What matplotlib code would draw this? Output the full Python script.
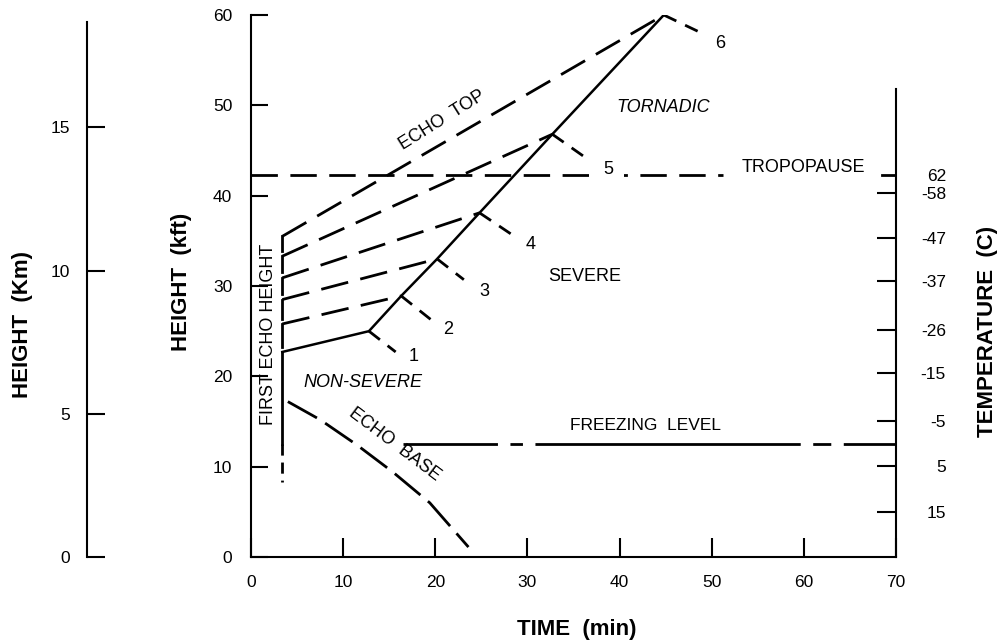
import numpy as np
import matplotlib

matplotlib.use("Agg")
import matplotlib.pyplot as plt

plt.rcParams['font.family'] = ['Liberation Sans', 'DejaVu Sans']
plt.rcParams['lines.scale_dashes'] = False  # Strichmuster in Punkten

# --- Daten (Zeit in min, Höhe in kft) ---
t_first = 3.4                                   # Zeitpunkt der ersten Echohöhe
first_echo_h = [35.5, 33.3, 30.9, 28.5, 25.8, 22.7]
first_echo_low = [12.5, 8.3]                    # unteres Ende der Linie

vertex_t = [44.8, 32.7, 24.8, 20.2, 16.3, 12.8]  # Knicke auf der Hauptlinie
vertex_h = [60.0, 46.8, 38.1, 33.0, 28.9, 25.0]
vertex_labels = ['6', '5', '4', '3', '2', '1']
ray_t = [48.9, 36.6, 28.3, 23.1, 19.5, 15.7]
ray_h = [58.0, 44.0, 35.7, 30.7, 26.3, 22.7]
num_t = [50.9, 38.8, 30.4, 25.3, 21.4, 17.6]
num_h = [56.9, 42.9, 34.6, 29.4, 25.2, 22.2]

echo_base_t = [4.0, 7.5, 11.5, 15.4, 19.4, 23.6]
echo_base_h = [17.2, 15.2, 12.4, 9.4, 6.0, 1.1]

tropopause_h = 42.3
freezing_h = 12.5
freezing_start = 16.5

temp_h = [40.3, 35.3, 30.5, 25.1, 20.4, 15.1, 10.1, 5.0]
temp_labels = ['-58', '-47', '-37', '-26', '-15', '-5', '5', '15']
tropo_temp = '62'

km_ticks = [0, 5, 10, 15]
kft_per_km = 3.17
kft_ticks = [0, 10, 20, 30, 40, 50, 60]
time_ticks = [0, 10, 20, 30, 40, 50, 60, 70]

fig = plt.figure(figsize=(9.98, 6.4), dpi=100)
ax = fig.add_axes([251 / 998, 83 / 640, 645 / 998, 542 / 640])
ax.set_xlim(0, 70)
ax.set_ylim(0, 60)

lw = 1.5
tsize = 12.5
ax.spines['top'].set_visible(False)
for s in ['left', 'bottom', 'right']:
    ax.spines[s].set_linewidth(lw)
ax.spines['right'].set_bounds(0, 51.8)

ax.set_xticks(time_ticks)
ax.set_yticks(kft_ticks)
ax.tick_params(axis='x', direction='in', length=14, width=lw, pad=13, labelsize=tsize)
ax.tick_params(axis='y', direction='in', length=12.5, width=lw, pad=13.5, labelsize=tsize)

# Hauptlinie (durchgezogen)
ax.plot([t_first] + vertex_t[::-1], [first_echo_h[-1]] + vertex_h[::-1], color='black', lw=1.8)

# gestrichelte Linien von der ersten Echohöhe zu den Knicken
for i in range(5):
    ax.plot([t_first, vertex_t[i]], [first_echo_h[i], vertex_h[i]], color='black', lw=2,
            dashes=(20, 9))
    ax.plot([t_first, t_first], [first_echo_h[i], first_echo_h[i + 1] + 0.6], color='black', lw=2)

# senkrechte Linie nach unten
ax.plot([t_first, t_first], [first_echo_h[-1], first_echo_low[0]], color='black', lw=2)
ax.plot([t_first, t_first], first_echo_low, color='black', lw=2, dashes=(8, 5))

# kurze Strahlen mit Nummern
for i in range(6):
    ax.plot([vertex_t[i], ray_t[i]], [vertex_h[i], ray_h[i]], color='black', lw=2, dashes=(10, 7))
    bb = None
    if vertex_labels[i] == '5':
        bb = dict(boxstyle='square,pad=0.6', facecolor='white', edgecolor='none')
    ax.text(num_t[i], num_h[i], vertex_labels[i], fontsize=13, ha='center', va='center',
            bbox=bb, zorder=5)

# Echobasis
ax.plot(echo_base_t, echo_base_h, color='black', lw=2, dashes=(24, 7))

# Tropopause
ax.plot([0, 51.2], [tropopause_h, tropopause_h], color='black', lw=2, dashes=(19, 9))
ax.plot([68.5, 70], [tropopause_h, tropopause_h], color='black', lw=2)
ax.text(60.0, 43.1, 'TROPOPAUSE', fontsize=13, ha='center', va='center')

# Nullgradgrenze
ax.plot([freezing_start, 70], [freezing_h, freezing_h], color='black', lw=2,
        dashes=(68, 9, 9, 9, 191, 9, 13, 9, 40))
ax.text(42.8, 14.6, 'FREEZING  LEVEL', fontsize=12.5, ha='center', va='center')

ax.text(20.7, 48.4, 'ECHO  TOP', fontsize=13, ha='center', va='center', rotation=32)
ax.text(15.6, 12.5, 'ECHO  BASE', fontsize=13, ha='center', va='center', rotation=-37)
ax.text(44.7, 49.8, 'TORNADIC', fontsize=13, style='italic', ha='center', va='center')
ax.text(36.2, 31.0, 'SEVERE', fontsize=13, ha='center', va='center')
ax.text(12.2, 19.3, 'NON-SEVERE', fontsize=13, style='italic', ha='center', va='center')
ax.text(1.85, 24.7, 'FIRST ECHO HEIGHT', fontsize=13, ha='center', va='center', rotation=90)

# Temperaturachse rechts
ax_t = ax.twinx()
ax_t.set_ylim(0, 60)
for s in ['left', 'top', 'bottom', 'right']:
    ax_t.spines[s].set_visible(False)
ax_t.set_yticks(temp_h)
ax_t.set_yticklabels(temp_labels, ha='right')
ax_t.set_yticks([tropopause_h], [tropo_temp], minor=True)
ax_t.tick_params(axis='y', which='major', direction='in', length=14, width=lw, pad=36, labelsize=tsize)
ax_t.tick_params(axis='y', which='minor', direction='in', length=0, width=lw, pad=36, labelsize=tsize)
for lab in ax_t.get_yticklabels(minor=True):
    lab.set_ha('right')

# km-Achse links
ax_km = ax.twinx()
ax_km.set_ylim(0, 60 / kft_per_km)
for s in ['right', 'top', 'bottom']:
    ax_km.spines[s].set_visible(False)
ax_km.spines['left'].set_visible(True)
ax_km.spines['left'].set_position(('axes', (87 - 251) / 645))
ax_km.spines['left'].set_linewidth(lw)
ax_km.spines['left'].set_bounds(0, 18.7)
ax_km.yaxis.set_ticks_position('left')
ax_km.set_yticks(km_ticks)
ax_km.tick_params(axis='y', direction='in', length=13, width=lw, pad=12, labelsize=tsize)

fig.text(577 / 998, 1 - 629 / 640, 'TIME  (min)', fontsize=16, fontweight='bold', ha='center', va='center')
fig.text(182 / 998, 1 - 282 / 640, 'HEIGHT  (kft)', fontsize=16, fontweight='bold', ha='center',
         va='center', rotation=90)
fig.text(23 / 998, 1 - 325 / 640, 'HEIGHT  (Km)', fontsize=16, fontweight='bold', ha='center',
         va='center', rotation=90)
fig.text(987 / 998, 1 - 331 / 640, 'TEMPERATURE  (C)', fontsize=16, fontweight='bold', ha='center',
         va='center', rotation=90)

fig.savefig("out.png", dpi=100)
